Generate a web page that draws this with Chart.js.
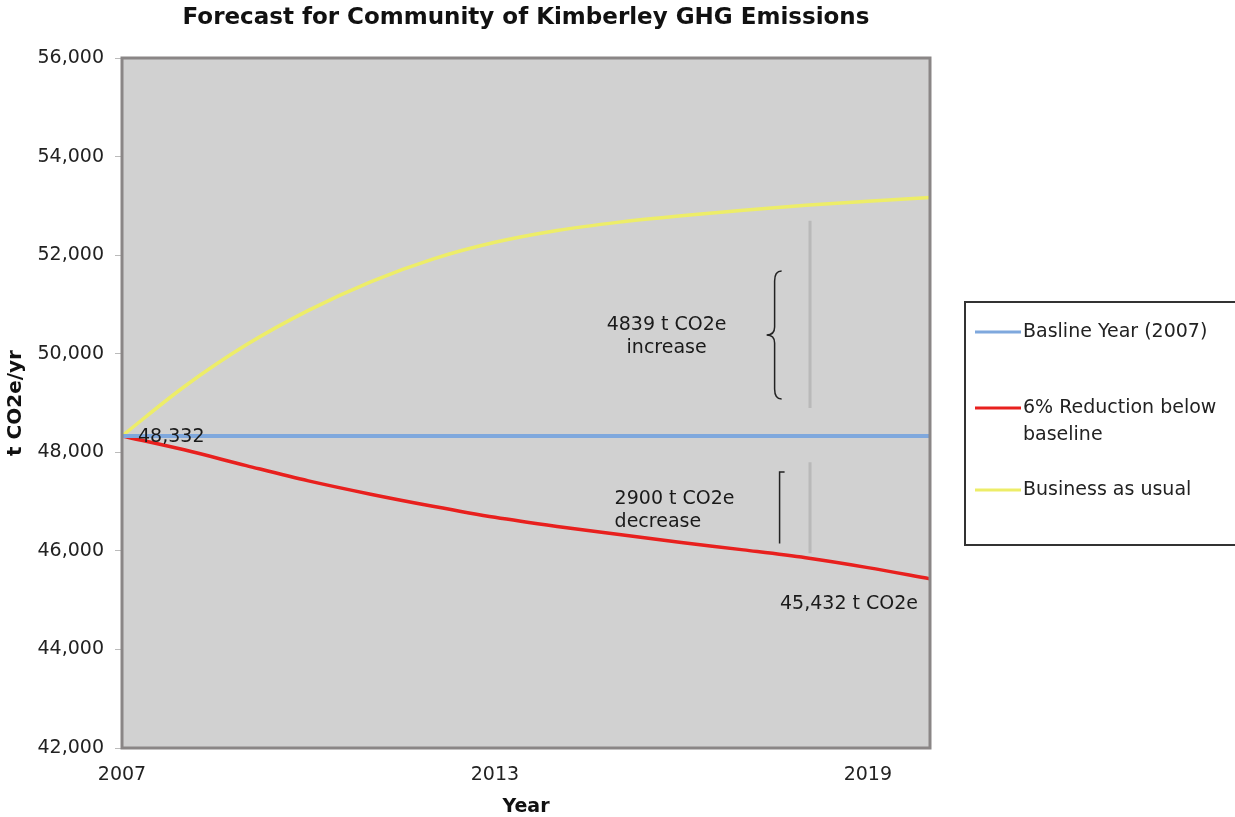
<!DOCTYPE html>
<html>

<head>
    <title>Forecast for Community of Kimberley GHG Emissions</title>
    <script src="https://cdn.jsdelivr.net/npm/chart.js"></script>
    <style>
        body { margin: 0; background: #fff; }
        #wrap { width: 1235px; height: 817px; }
    </style>
</head>

<body>

    <div id="wrap"><canvas id="myChart" width="1235" height="817"></canvas></div>

    <script>
        // data
        var years = [2007, 2008, 2009, 2010, 2011, 2012, 2013, 2014, 2015, 2016, 2017, 2018, 2019, 2020];
        var tickYears = [2007, 2013, 2019];
        var baseline = [48332, 48332, 48332, 48332, 48332, 48332, 48332, 48332, 48332, 48332, 48332, 48332, 48332, 48332];
        var reduction = [48332, 48050, 47730, 47420, 47150, 46905, 46680, 46495, 46330, 46170, 46020, 45860, 45660, 45432];
        var businessAsUsual = [48332, 49330, 50180, 50880, 51460, 51920, 52260, 52500, 52670, 52800, 52910, 53010, 53095, 53171];
        var seriesNames = ['Basline Year (2007)', '6% Reduction below baseline', 'Business as usual'];
        var seriesColors = ['#7fa8dd', '#e8201e', '#eded68'];

        var FONT = '"DejaVu Sans", Verdana, sans-serif';
        var fmt = function (v) { return v.toLocaleString('en-US'); };

        var ctx = document.getElementById('myChart').getContext('2d');

        var decorPlugin = {
            id: 'decor',
            beforeDraw(chart) {
                var a = chart.chartArea, c = chart.ctx;
                c.save();
                c.fillStyle = '#d1d1d1';
                c.fillRect(a.left, a.top, a.right - a.left, a.bottom - a.top);
                c.restore();
            },
            afterDatasetsDraw(chart) {
                var a = chart.chartArea, c = chart.ctx;
                var xs = chart.scales.x, ys = chart.scales.y;
                var last = years.length - 1;
                c.save();

                // plot frame
                c.strokeStyle = '#8a8686';
                c.lineWidth = 3;
                c.strokeRect(a.left, a.top, a.right - a.left, a.bottom - a.top);

                // title centred over the plot
                c.fillStyle = '#111';
                c.font = 'bold 23px ' + FONT;
                c.textAlign = 'center';
                c.textBaseline = 'middle';
                c.fillText('Forecast for Community of Kimberley GHG Emissions', (a.left + a.right) / 2, 18);

                // faint vertical guide lines
                var gx = xs.getPixelForValue(11.07);
                c.strokeStyle = 'rgba(150,150,150,0.4)';
                c.lineWidth = 3;
                c.beginPath();
                c.moveTo(gx, ys.getPixelForValue(52700)); c.lineTo(gx, ys.getPixelForValue(48900));
                c.moveTo(gx, ys.getPixelForValue(47800)); c.lineTo(gx, ys.getPixelForValue(45950));
                c.stroke();

                // value labels
                c.font = '19px ' + FONT;
                c.fillStyle = '#1a1a1a';
                c.textAlign = 'left';
                c.fillText(fmt(baseline[0]), xs.getPixelForValue(0) + 16, ys.getPixelForValue(baseline[0]) + 1);
                c.textAlign = 'right';
                c.fillText(fmt(reduction[last]) + ' t CO2e', xs.getPixelForValue(last) - 12, ys.getPixelForValue(reduction[last]) + 25);

                // increase brace
                var inc = businessAsUsual[last] - baseline[last];
                var dec = baseline[last] - reduction[last];
                var bx = xs.getPixelForValue(10.5);
                var top = ys.getPixelForValue(51680), bot = ys.getPixelForValue(49080);
                var mid = (top + bot) / 2;
                c.strokeStyle = '#222';
                c.lineWidth = 1.5;
                c.beginPath();
                c.moveTo(bx + 7, top);
                c.quadraticCurveTo(bx, top, bx, top + 10);
                c.lineTo(bx, mid - 8);
                c.quadraticCurveTo(bx, mid, bx - 8, mid);
                c.quadraticCurveTo(bx, mid, bx, mid + 8);
                c.lineTo(bx, bot - 10);
                c.quadraticCurveTo(bx, bot, bx + 7, bot);
                c.stroke();

                c.fillStyle = '#1a1a1a';
                c.textAlign = 'center';
                c.fillText(inc + ' t CO2e', bx - 108, mid - 10);
                c.fillText('increase', bx - 108, mid + 13);

                // decrease bracket
                var dx = xs.getPixelForValue(10.58);
                var dTop = ys.getPixelForValue(47600), dBot = ys.getPixelForValue(46150);
                c.beginPath();
                c.moveTo(dx + 5, dTop); c.lineTo(dx, dTop); c.lineTo(dx, dBot);
                c.stroke();
                c.textAlign = 'left';
                c.fillText(dec + ' t CO2e', bx - 160, ys.getPixelForValue(47050));
                c.fillText('decrease', bx - 160, ys.getPixelForValue(47050) + 23);

                // legend box
                var lx = 965, ly = 302, lw = 290, lh = 243;
                c.fillStyle = '#fff';
                c.fillRect(lx, ly, lw, lh);
                c.strokeStyle = '#333';
                c.lineWidth = 2;
                c.strokeRect(lx, ly, lw, lh);
                var rows = [[332], [408, 435], [490]];
                var lines = [[seriesNames[0]], ['6% Reduction below', 'baseline'], [seriesNames[2]]];
                c.font = '19px ' + FONT;
                c.textAlign = 'left';
                for (var i = 0; i < 3; i++) {
                    c.strokeStyle = seriesColors[i];
                    c.lineWidth = 3;
                    c.beginPath();
                    c.moveTo(975, rows[i][0]); c.lineTo(1021, rows[i][0]);
                    c.stroke();
                    c.fillStyle = '#222';
                    for (var k = 0; k < lines[i].length; k++) {
                        c.fillText(lines[i][k], 1023, rows[i][k]);
                    }
                }
                c.restore();
            }
        };

        var myChart = new Chart(ctx, {
            type: 'line',
            data: {
                labels: years,
                datasets: [{
                    label: seriesNames[0],
                    data: baseline,
                    borderColor: seriesColors[0],
                    borderWidth: 4
                }, {
                    label: seriesNames[1],
                    data: reduction,
                    borderColor: seriesColors[1],
                    borderWidth: 3.5
                }, {
                    label: seriesNames[2],
                    data: businessAsUsual,
                    borderColor: seriesColors[2],
                    borderWidth: 3.5
                }]
            },
            options: {
                responsive: false,
                animation: false,
                locale: 'en-US',
                layout: { padding: { top: 58, right: 305, left: 0, bottom: 0 } },
                elements: {
                    point: { radius: 0 },
                    line: { cubicInterpolationMode: 'monotone' }
                },
                scales: {
                    x: {
                        type: 'category',
                        offset: false,
                        grid: { drawOnChartArea: false, drawTicks: false },
                        border: { display: false },
                        ticks: {
                            autoSkip: false,
                            maxRotation: 0,
                            padding: 16,
                            color: '#222',
                            font: { family: FONT, size: 19 },
                            callback: function (v, i) {
                                return tickYears.indexOf(years[i]) >= 0 ? String(years[i]) : '';
                            }
                        },
                        title: {
                            display: true,
                            text: 'Year',
                            color: '#111',
                            font: { family: FONT, size: 19, weight: 'bold', lineHeight: 1 },
                            padding: { top: 0, bottom: 0 }
                        },
                        afterFit: function (s) { s.height = 69; }
                    },
                    y: {
                        min: 42000,
                        max: 56000,
                        grid: { drawOnChartArea: false, drawTicks: true, tickLength: 7, color: '#bbb' },
                        border: { display: false },
                        ticks: {
                            stepSize: 2000,
                            padding: 11,
                            color: '#222',
                            font: { family: FONT, size: 19 },
                            callback: function (v) { return fmt(v); }
                        },
                        title: {
                            display: true,
                            text: 't CO2e/yr',
                            color: '#111',
                            font: { family: FONT, size: 20, weight: 'bold' },
                            padding: { top: 4, bottom: 0 }
                        },
                        afterFit: function (s) { s.width = 122; }
                    }
                },
                plugins: {
                    legend: { display: false },
                    title: { display: false },
                    tooltip: { enabled: false }
                }
            },
            plugins: [decorPlugin]
        });
    </script>

</body>

</html>
